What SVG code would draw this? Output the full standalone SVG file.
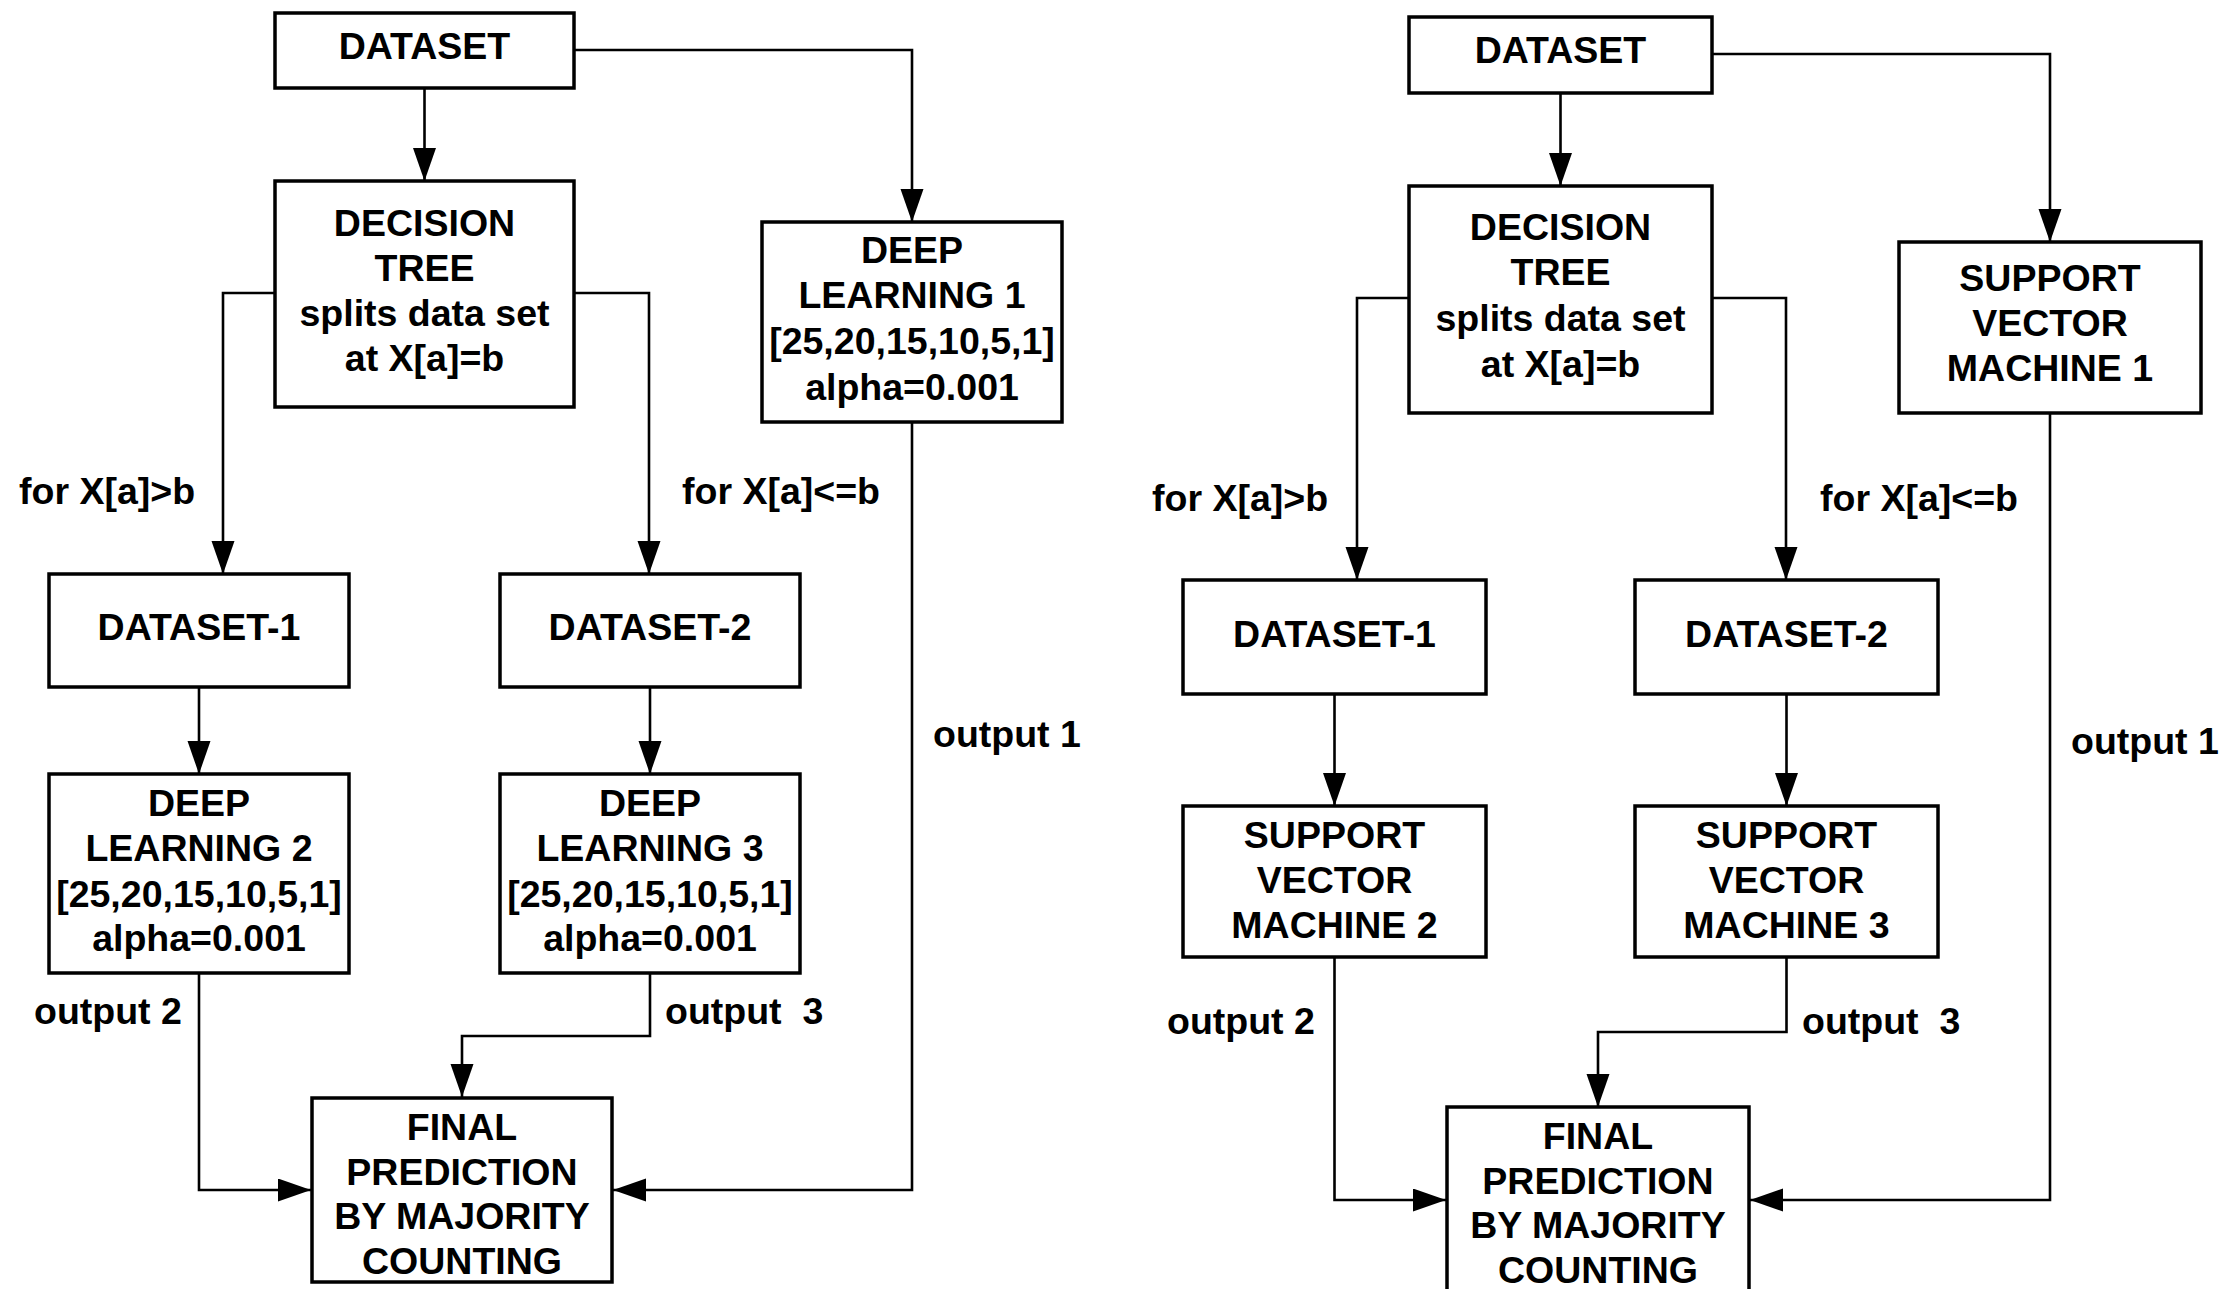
<svg xmlns="http://www.w3.org/2000/svg" width="2234" height="1289" viewBox="0 0 2234 1289">
<defs>
<style>
.box{fill:#fff;stroke:#000;stroke-width:3.5}
.c{fill:none;stroke:#000;stroke-width:2.6;marker-end:url(#ah)}
text{font-family:"Liberation Sans",Arial,sans-serif;font-weight:bold;font-size:37.5px;fill:#000}
.m{text-anchor:middle}
.lbl{white-space:pre}
</style>
<marker id="ah" markerUnits="userSpaceOnUse" markerWidth="34" markerHeight="24" refX="33" refY="11.5" orient="auto">
<path d="M0,0 L33,11.5 L0,23 z" fill="#000"/>
</marker>
</defs>
<rect width="2234" height="1289" fill="#fff"/>

<g id="connectors">
<path class="c" d="M424.5,88 V181"/>
<path class="c" d="M575,50 H912 V222"/>
<path class="c" d="M275,293 H223 V574"/>
<path class="c" d="M574,293 H649 V574"/>
<path class="c" d="M199,687 V774"/>
<path class="c" d="M650,687 V774"/>
<path class="c" d="M199,973 V1190 H311"/>
<path class="c" d="M650,973 V1036 H462 V1097"/>
<path class="c" d="M912,422 V1190 H613"/>

<path class="c" d="M1560.5,93 V186"/>
<path class="c" d="M1712,54 H2050 V242"/>
<path class="c" d="M1409,298 H1357 V580"/>
<path class="c" d="M1712,298 H1786 V580"/>
<path class="c" d="M1334.5,694 V806"/>
<path class="c" d="M1786.5,694 V806"/>
<path class="c" d="M1334.5,957 V1200 H1446"/>
<path class="c" d="M1786.5,957 V1032 H1598 V1107"/>
<path class="c" d="M2050,413 V1200 H1750"/>
</g>

<g id="labels">
<text class="lbl" x="19" y="504">for X[a]&gt;b</text>
<text class="lbl" x="682" y="504">for X[a]&lt;=b</text>
<text class="lbl" x="933" y="747">output 1</text>
<text class="lbl" x="34" y="1024">output 2</text>
<text class="lbl" x="665" y="1024">output  3</text>
<text class="lbl" x="1152" y="511">for X[a]&gt;b</text>
<text class="lbl" x="1820" y="511">for X[a]&lt;=b</text>
<text class="lbl" x="2071" y="754">output 1</text>
<text class="lbl" x="1167" y="1034">output 2</text>
<text class="lbl" x="1802" y="1034">output  3</text>
</g>

<g id="L-dataset"><rect class="box" x="275" y="13" width="299" height="75"/><text class="m" x="424.5" y="59">DATASET</text></g>
<g id="L-dtree"><rect class="box" x="275" y="181" width="299" height="226"/>
<text class="m" x="424.5" y="236">DECISION</text><text class="m" x="424.5" y="281">TREE</text><text class="m" x="424.5" y="326">splits data set</text><text class="m" x="424.5" y="371">at X[a]=b</text></g>
<g id="L-dl1"><rect class="box" x="762" y="222" width="300" height="200"/>
<text class="m" x="912" y="263">DEEP</text><text class="m" x="912" y="308">LEARNING 1</text><text class="m" x="912" y="354">[25,20,15,10,5,1]</text><text class="m" x="912" y="400">alpha=0.001</text></g>
<g id="L-ds1"><rect class="box" x="49" y="574" width="300" height="113"/><text class="m" x="199" y="640">DATASET-1</text></g>
<g id="L-ds2"><rect class="box" x="500" y="574" width="300" height="113"/><text class="m" x="650" y="640">DATASET-2</text></g>
<g id="L-dl2"><rect class="box" x="49" y="774" width="300" height="199"/>
<text class="m" x="199" y="816">DEEP</text><text class="m" x="199" y="861">LEARNING 2</text><text class="m" x="199" y="907">[25,20,15,10,5,1]</text><text class="m" x="199" y="951">alpha=0.001</text></g>
<g id="L-dl3"><rect class="box" x="500" y="774" width="300" height="199"/>
<text class="m" x="650" y="816">DEEP</text><text class="m" x="650" y="861">LEARNING 3</text><text class="m" x="650" y="907">[25,20,15,10,5,1]</text><text class="m" x="650" y="951">alpha=0.001</text></g>
<g id="L-final"><rect class="box" x="312" y="1098" width="300" height="184"/>
<text class="m" x="462" y="1140">FINAL</text><text class="m" x="462" y="1185">PREDICTION</text><text class="m" x="462" y="1229">BY MAJORITY</text><text class="m" x="462" y="1274">COUNTING</text></g>

<g id="R-dataset"><rect class="box" x="1409" y="17" width="303" height="76"/><text class="m" x="1560.5" y="63">DATASET</text></g>
<g id="R-dtree"><rect class="box" x="1409" y="186" width="303" height="227"/>
<text class="m" x="1560.5" y="240">DECISION</text><text class="m" x="1560.5" y="285">TREE</text><text class="m" x="1560.5" y="331">splits data set</text><text class="m" x="1560.5" y="377">at X[a]=b</text></g>
<g id="R-svm1"><rect class="box" x="1899" y="242" width="302" height="171"/>
<text class="m" x="2050" y="291">SUPPORT</text><text class="m" x="2050" y="336">VECTOR</text><text class="m" x="2050" y="381">MACHINE 1</text></g>
<g id="R-ds1"><rect class="box" x="1183" y="580" width="303" height="114"/><text class="m" x="1334.5" y="647">DATASET-1</text></g>
<g id="R-ds2"><rect class="box" x="1635" y="580" width="303" height="114"/><text class="m" x="1786.5" y="647">DATASET-2</text></g>
<g id="R-svm2"><rect class="box" x="1183" y="806" width="303" height="151"/>
<text class="m" x="1334.5" y="848">SUPPORT</text><text class="m" x="1334.5" y="893">VECTOR</text><text class="m" x="1334.5" y="938">MACHINE 2</text></g>
<g id="R-svm3"><rect class="box" x="1635" y="806" width="303" height="151"/>
<text class="m" x="1786.5" y="848">SUPPORT</text><text class="m" x="1786.5" y="893">VECTOR</text><text class="m" x="1786.5" y="938">MACHINE 3</text></g>
<g id="R-final"><rect class="box" x="1447" y="1107" width="302" height="200"/>
<text class="m" x="1598" y="1149">FINAL</text><text class="m" x="1598" y="1194">PREDICTION</text><text class="m" x="1598" y="1238">BY MAJORITY</text><text class="m" x="1598" y="1283">COUNTING</text></g>
</svg>
